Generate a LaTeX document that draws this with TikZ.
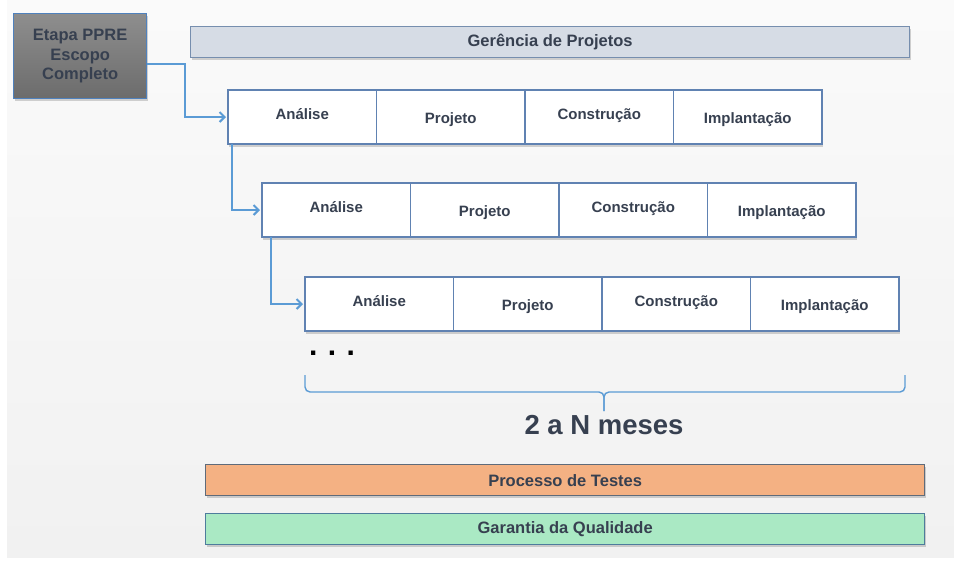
\documentclass[tikz,border=0pt]{standalone}
\usepackage{fontspec}
\setmainfont{Liberation Sans}
\usetikzlibrary{positioning,shadows,arrows.meta}

\definecolor{bgtop}{RGB}{250,250,250}
\definecolor{bgbot}{RGB}{241,241,241}
\definecolor{linkblue}{RGB}{91,155,213}
\definecolor{cellline}{RGB}{96,130,178}
\definecolor{txtdark}{RGB}{55,64,80}
\definecolor{gerfill}{RGB}{214,220,229}
\definecolor{gerline}{RGB}{118,142,174}
\definecolor{testfill}{RGB}{244,177,131}
\definecolor{testline}{RGB}{95,107,122}
\definecolor{qualfill}{RGB}{170,233,196}
\definecolor{qualline}{RGB}{78,124,156}
\definecolor{etapatop}{RGB}{142,142,142}
\definecolor{etapabot}{RGB}{108,108,108}
\definecolor{etapaline}{RGB}{79,129,189}

\tikzset{
  shade box/.style={drop shadow={opacity=0.35,shadow xshift=1pt,shadow yshift=-2.5pt}},
  cell/.style={draw=cellline, line width=1.3pt, fill=white, shade box,
    minimum width=148.5pt, minimum height=54pt, inner sep=0pt, outer sep=0pt,
    font=\fontsize{15}{17}\selectfont\bfseries, text=txtdark},
  hi/.style={text height=8pt, text depth=4pt},
  lo/.style={text height=12pt, text depth=0pt},
  bar/.style={line width=1.3pt, shade box, anchor=north west,
    minimum width=719pt, minimum height=31pt, inner sep=0pt,
    font=\fontsize{16.5}{18}\selectfont\bfseries, text=txtdark},
  link/.style={draw=linkblue, line width=2pt, shorten >=2pt,
    -{Straight Barb[length=5pt,width=10pt]}},
  brace/.style={draw=linkblue, line width=1.4pt, rounded corners=5pt},
}

\begin{document}
\begin{tikzpicture}[x=1pt,y=-1pt]
    \useasboundingbox (0,0) rectangle (954,566);
    \fill[white] (0,0) rectangle (954,566);
    \shade[top color=bgtop,bottom color=bgbot] (7,0) rectangle (954,557);
    %% Start box and management bar
    \node[draw=etapaline, line width=1.3pt, top color=etapatop, bottom color=etapabot,
      shade box, anchor=north west, minimum width=133pt, minimum height=85pt,
      align=center, font=\fontsize{16.5}{19.5}\selectfont\bfseries, text=txtdark]
      (etapa) at (13,13) {Etapa PPRE\\Escopo\\Completo};
    \node[bar, draw=gerline, fill=gerfill] (gerencia) at (190,26) {Gerência de Projetos};
    %% Iterations
    \foreach \r/\x/\y in {1/228/90, 2/262/183, 3/305/277}{
      \node[cell, hi, anchor=north west] (ana\r) at (\x,\y) {Análise};
      \node[cell, lo, right=0pt of ana\r] (pro\r) {Projeto};
      \node[cell, hi, right=0pt of pro\r] (con\r) {Construção};
      \node[cell, lo, right=0pt of con\r] (imp\r) {Implantação};
    }
    \draw[link] ([yshift=-8pt]etapa.east) -| ([xshift=-43pt]ana1.west) -- (ana1.west);
    \draw[link] ([xshift=4pt]ana1.south west) |- (ana2.west);
    \draw[link] ([xshift=9pt]ana2.south west) |- (ana3.west);
    \node[anchor=base, font=\fontsize{30}{30}\selectfont\bfseries] (dots) at (332,355.5)
      {.\hspace{10.5pt}.\hspace{10.5pt}.};
    %% Duration
    \coordinate (bl) at (305,375);
    \coordinate (br) at (905,375);
    \coordinate (bmid) at (604,392);
    \coordinate (tip) at (604,411);
    \draw[brace] (bl) |- (bmid) -- (tip);
    \draw[brace] (br) |- (bmid) -- (tip);
    \node[anchor=base, font=\fontsize{27.5}{30}\selectfont\bfseries, text=txtdark]
      (meses) at (604,434) {2 a N meses};
    %% Support processes
    \node[bar, draw=testline, fill=testfill] (testes) at (205,464) {Processo de Testes};
    \node[bar, draw=qualline, fill=qualfill] (qualidade) at (205,513) {Garantia da Qualidade};
\end{tikzpicture}
\end{document}
